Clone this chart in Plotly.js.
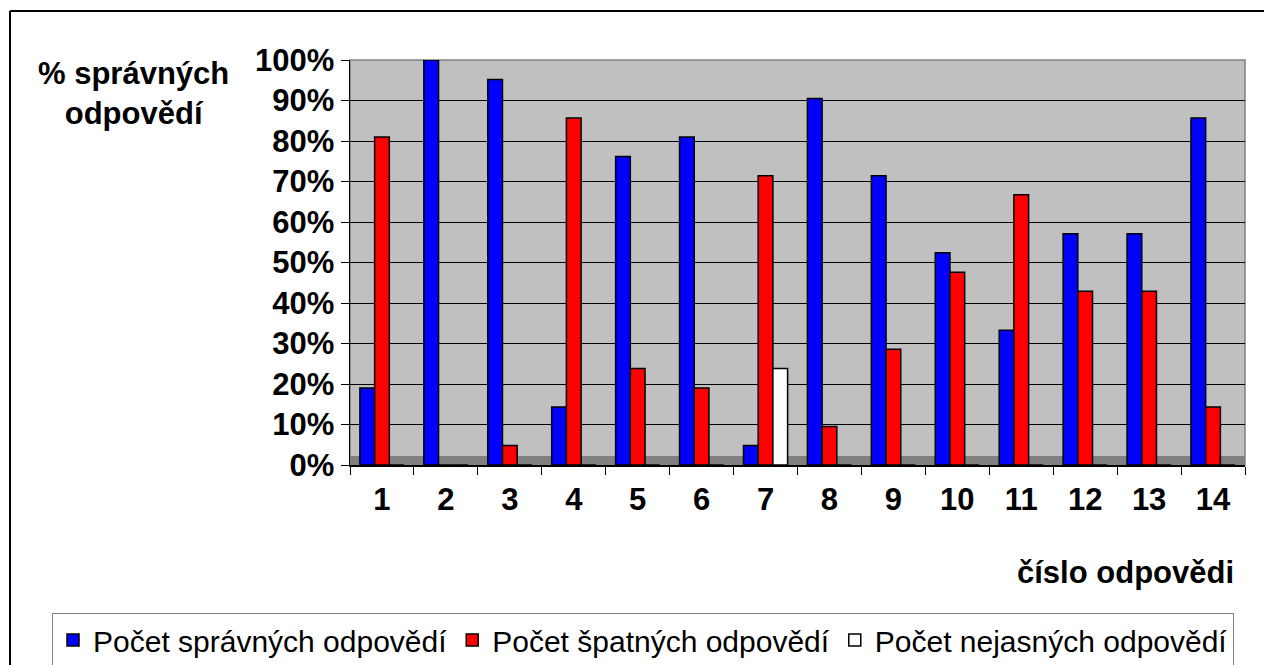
<!DOCTYPE html>
<html>
<head>
<meta charset="utf-8">
<script src="https://cdn.plot.ly/plotly-3.0.1.min.js"></script>
<style>html,body{margin:0;padding:0;background:#fff;}#chart{width:1264px;height:665px;}</style>
</head>
<body>
<div id="chart"></div>
<script>
// Data (percent)
var categories = ['1','2','3','4','5','6','7','8','9','10','11','12','13','14'];
var correct = [19.0, 100, 95.2, 14.3, 76.2, 81.0, 4.8, 90.5, 71.4, 52.4, 33.3, 57.1, 57.1, 85.7];
var wrong   = [81.0, 0, 4.8, 85.7, 23.8, 19.0, 71.4, 9.5, 28.6, 47.6, 66.7, 42.9, 42.9, 14.3];
var unclear = [0, 0, 0, 0, 0, 0, 23.8, 0, 0, 0, 0, 0, 0, 0];
var seriesNames = ['Počet správných odpovědí', 'Počet špatných odpovědí', 'Počet nejasných odpovědí'];
var yTickVals = [0,10,20,30,40,50,60,70,80,90,100];
var yTickText = ['0%','10%','20%','30%','40%','50%','60%','70%','80%','90%','100%'];

var FONT = 'Liberation Sans';

function bar(y, name, color) {
  return {
    type: 'bar', x: categories, y: y, name: name,
    marker: {color: color, line: {color: '#000', width: 1.5}},
    hoverinfo: 'skip'
  };
}
var data = [
  bar(correct, seriesNames[0], '#0000ff'),
  bar(wrong, seriesNames[1], '#ff0000'),
  bar(unclear, seriesNames[2], '#ffffff')
];

// pixel helpers for placing decorations (plot area 350..1245 x 60..465)
var L = 350, R = 1245, T = 60, B = 465;
function px(p){ return (p - L) / (R - L); }
function py(q){ return (B - q) / (B - T); }

var layout = {
  width: 1264, height: 665,
  margin: {l: L, r: 1264 - R, t: T, b: 665 - B, pad: 0, autoexpand: false},
  paper_bgcolor: '#ffffff',
  plot_bgcolor: '#c0c0c0',
  barmode: 'group', bargap: 0.31, bargroupgap: 0,
  showlegend: true,
  font: {family: FONT, color: '#000'},
  xaxis: {
    type: 'category', tickson: 'boundaries', ticks: 'outside', ticklen: 8, tickcolor: '#000', tickwidth: 1,
    showline: true, linecolor: '#000', linewidth: 1.5, showgrid: false,
    tickfont: {family: FONT, size: 31, color: '#000', weight: 'bold'},
    ticklabelstandoff: 6, fixedrange: true, automargin: false
  },
  yaxis: {
    range: [0, 100], tickvals: yTickVals, ticktext: yTickText,
    ticks: 'outside', ticklen: 8, tickcolor: '#000', tickwidth: 1,
    showline: true, linecolor: '#000', linewidth: 1.5,
    showgrid: true, gridcolor: '#000', gridwidth: 1, zeroline: false,
    tickfont: {family: FONT, size: 31, color: '#000', weight: 'bold'},
    ticklabelstandoff: 0, fixedrange: true, automargin: false
  },
  legend: {
    orientation: 'h', x: px(52), xanchor: 'left', y: py(613), yanchor: 'top',
    font: {family: FONT, size: 30, color: '#000'},
    bgcolor: '#ffffff', bordercolor: '#808080', borderwidth: 1,
    itemclick: false, itemdoubleclick: false
  },
  annotations: [
    {xref: 'paper', yref: 'paper', x: px(133), y: py(93), xanchor: 'center', yanchor: 'middle',
     text: '% správných<br>odpovědí', showarrow: false,
     font: {family: FONT, size: 31, color: '#000', weight: 'bold'}},
    {xref: 'paper', yref: 'paper', x: px(1236), y: py(572), xanchor: 'right', yanchor: 'middle',
     text: 'číslo odpovědi', showarrow: false,
     font: {family: FONT, size: 31, color: '#000', weight: 'bold'}}
  ],
  shapes: [
    // floor band
    {type: 'rect', xref: 'paper', yref: 'paper', x0: 0, x1: 1, y0: 0, y1: py(456),
     fillcolor: '#808080', line: {width: 0}, layer: 'below'},
    // back wall outline
    {type: 'rect', xref: 'paper', yref: 'paper', x0: 0, x1: 1, y0: 0, y1: 1,
     line: {color: '#808080', width: 1.5}, layer: 'below'},
    // outer chart border (top and left)
    {type: 'line', xref: 'paper', yref: 'paper', x0: px(10), x1: px(1270), y0: py(11), y1: py(11),
     line: {color: '#000', width: 2}},
    {type: 'line', xref: 'paper', yref: 'paper', x0: px(10), x1: px(10), y0: py(11), y1: py(670),
     line: {color: '#000', width: 2}}
  ]
};

Plotly.newPlot('chart', data, layout, {displayModeBar: false, staticPlot: true});
</script>
</body>
</html>
